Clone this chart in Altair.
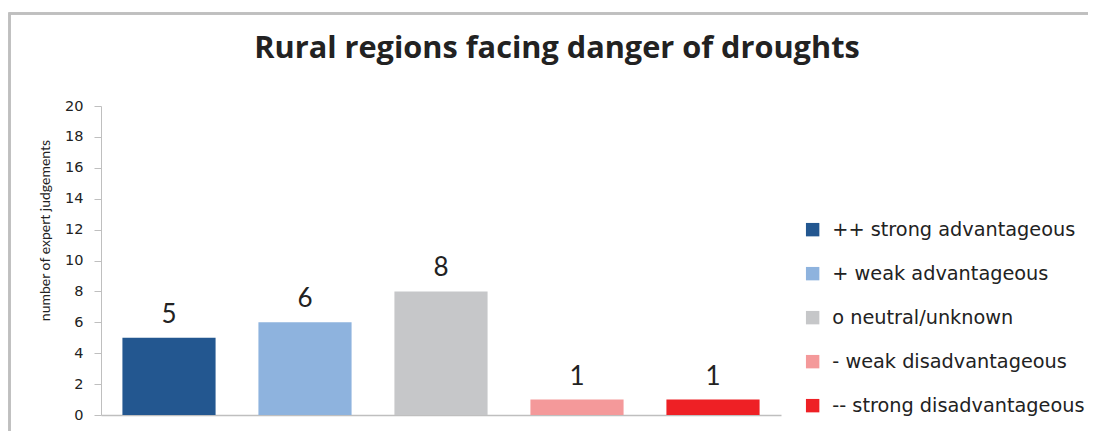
import altair as alt
import pandas as pd

categories = ["++ strong advantageous", "+ weak advantageous", "o neutral/unknown",
              "- weak disadvantageous", "-- strong disadvantageous"]
values = [5, 6, 8, 1, 1]
colors = ["#235790", "#8EB3DE", "#C6C7C9", "#F4999A", "#EE2025"]
y_ticks = list(range(0, 21, 2))
title_text = "Rural regions facing danger of droughts"

df = pd.DataFrame({"category": categories, "value": values})

FONT = "Lato"

x = alt.X("category:N", sort=categories,
          scale=alt.Scale(paddingInner=0.315, paddingOuter=0.1575),
          axis=alt.Axis(labels=False, ticks=False, title=None, domainColor="#BFBFBF",
                        domainWidth=1.5))
y = alt.Y("value:Q", scale=alt.Scale(domain=[0, 20], nice=False),
          axis=alt.Axis(values=y_ticks, title="number of expert judgements", grid=False,
                        labelOverlap=False,
                        domainColor="#BFBFBF", tickColor="#BFBFBF", tickSize=7,
                        labelFontSize=14.5, labelColor="#222222", labelFont="DejaVu Sans",
                        labelPadding=11, titleFont=FONT,
                        titleFontSize=14, titleFontWeight="normal", titleColor="#222222",
                        titlePadding=12, titleY=124))

base = alt.Chart(df).encode(x=x, y=y)

bars = base.mark_bar().encode(
    color=alt.Color("category:N", sort=categories,
                    scale=alt.Scale(domain=categories, range=colors),
                    legend=alt.Legend(title=None, orient="none", legendX=702, legendY=114,
                                      symbolType="square", symbolSize=180,
                                      symbolStrokeWidth=0, labelFontSize=19.3,
                                      labelFont="DejaVu Sans", labelColor="#222222",
                                      rowPadding=24, labelOffset=10,
                                      labelLimit=400)),
)

labels = base.mark_text(baseline="bottom", dy=-10, fontSize=26, font=FONT,
                        color="#222222").encode(text="value:Q")

border = alt.Chart(df).mark_rect(fill=None, stroke="#BFBFBF", strokeWidth=2).encode(
    x=alt.value(-91.5), x2=alt.value(1010), y=alt.value(-92.5), y2=alt.value(360))

title = alt.Chart(pd.DataFrame({"t": [title_text]})).mark_text(
    font="Open Sans", fontSize=30.7, fontWeight="bold", color="#222222",
    align="center", baseline="alphabetic").encode(
    x=alt.value(456), y=alt.value(-48), text="t:N")

chart = alt.layer(border, bars, labels, title).properties(
    width=680, height=309,
    autosize=alt.AutoSizeParams(type="none"),
    padding={"left": 93, "top": 98, "right": 307, "bottom": 16},
).configure_view(stroke=None)

chart.save("out.html", embed_options={"renderer": "svg", "actions": False})
